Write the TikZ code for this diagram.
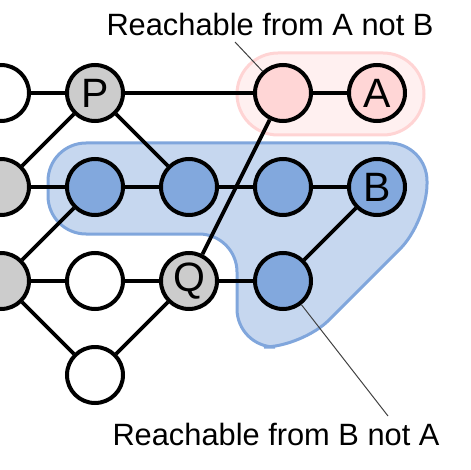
\documentclass[tikz,border=0pt]{standalone}
\usepackage{fontspec}
\setmainfont{Liberation Sans}
\usepackage{tikz}
\usetikzlibrary{positioning}

\definecolor{nodegray}{HTML}{CCCCCC}
\definecolor{nodepink}{HTML}{FFD6D6}
\definecolor{nodeblue}{HTML}{82A8DD}
\definecolor{pinkzone}{HTML}{FFF0F0}
\definecolor{pinkedge}{HTML}{FFD4D4}
\definecolor{bluezone}{HTML}{C6D7EF}
\definecolor{blueedge}{HTML}{80A6DC}

\begin{document}
\begin{tikzpicture}[x=1pt, y=-1pt, node distance=94pt,
    vertex/.style={circle, draw, line width=4pt, fill=white, minimum size=56pt, inner sep=0pt, font=\fontsize{41}{41}\selectfont},
    link/.style={line width=3.8pt},
    leader/.style={line width=1pt, draw=black!75},
    tag/.style={font=\fontsize{30.8}{32}\selectfont, anchor=base}]
    \useasboundingbox (0,0) rectangle (470,470);

    % Highlighted regions
    \draw[fill=pinkzone, draw=pinkedge, line width=3pt, rounded corners=41] (237,53) rectangle (424,135);
    \draw[fill=bluezone, draw=blueedge, line width=3pt, rounded corners=38] (48,143) -- (427,143) -- (427,222) -- (302,347) -- (237,347) -- (237,234) -- (48,234) -- cycle;

    % Top row
    \node[vertex, fill=nodegray] (p) at (95,93) {P};
    \node[vertex, left of=p] (topleft) {};
    \node[vertex, fill=nodepink, right of=p, xshift=94pt] (fromA) {};
    \node[vertex, fill=nodepink, right of=fromA] (a) {A};

    % Middle row
    \node[vertex, fill=nodegray, below of=topleft] (midleft) {};
    \node[vertex, fill=nodeblue, below of=p] (m1) {};
    \node[vertex, fill=nodeblue, right of=m1] (m2) {};
    \node[vertex, fill=nodeblue, right of=m2] (m3) {};
    \node[vertex, fill=nodeblue, right of=m3] (b) {B};

    % Lower rows
    \node[vertex, fill=nodegray, below of=midleft] (lowleft) {};
    \node[vertex, below of=m1] (w1) {};
    \node[vertex, fill=nodegray, right of=w1] (q) {Q};
    \node[vertex, fill=nodeblue, right of=q] (fromB) {};
    \node[vertex, below of=w1] (w2) {};

    % Edges
    \draw[link] (topleft) -- (p);
    \draw[link] (p) -- (fromA);
    \draw[link] (fromA) -- (a);
    \draw[link] (p) -- (midleft);
    \draw[link] (p) -- (m2);
    \draw[link] (midleft) -- (m1);
    \draw[link] (m1) -- (m2);
    \draw[link] (m2) -- (m3);
    \draw[link] (m3) -- (b);
    \draw[link] (fromA) -- (q);
    \draw[link] (m1) -- (lowleft);
    \draw[link] (lowleft) -- (w1);
    \draw[link] (w1) -- (q);
    \draw[link] (q) -- (fromB);
    \draw[link] (lowleft) -- (w2);
    \draw[link] (w2) -- (q);
    \draw[link] (b) -- (fromB);

    % Labels with leader lines
    \node[tag] (labela) at (270,36) {Reachable from A not B};
    \node[tag] (labelb) at (276,445) {Reachable from B not A};
    \coordinate (tipa) at (235,42);
    \coordinate (tipb) at (388,416);
    \draw[leader] (tipa) -- (fromA);
    \draw[leader] (fromB) -- (tipb);
\end{tikzpicture}
\end{document}
